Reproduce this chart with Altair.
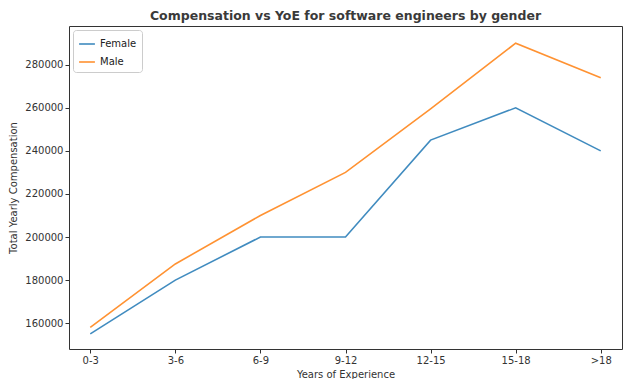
import altair as alt
import pandas as pd

categories = ["0-3", "3-6", "6-9", "9-12", "12-15", "15-18", ">18"]
female = [155000, 180000, 200000, 200000, 245000, 260000, 240000]
male = [158000, 187500, 210000, 230000, 259500, 290000, 274000]

rows = []
for c, f, m in zip(categories, female, male):
    rows.append({"yoe": c, "gender": "Female", "comp": f})
    rows.append({"yoe": c, "gender": "Male", "comp": m})
df = pd.DataFrame(rows)

font = "DejaVu Sans"

chart = alt.Chart(df).mark_line(strokeWidth=1.6, opacity=0.85).encode(
    x=alt.X("yoe:N", sort=categories, title="Years of Experience",
            scale=alt.Scale(type="point", padding=0.25),
            axis=alt.Axis(labelAngle=0, grid=False, tickColor="#333", tickSize=4,
                          domain=False, labelColor="#333", labelFontSize=10,
                          titleFontSize=10, titleFontWeight="normal", titleColor="#333",
                          labelFont=font, titleFont=font, titlePadding=4)),
    y=alt.Y("comp:Q", title="Total Yearly Compensation",
            scale=alt.Scale(domain=[148000, 298000], nice=False, zero=False),
            axis=alt.Axis(values=[160000, 180000, 200000, 220000, 240000, 260000, 280000],
                          format="d",
                          grid=False, tickColor="#333", tickSize=4, domain=False,
                          labelColor="#333", labelFontSize=10, titleFontSize=10,
                          titleFontWeight="normal", titleColor="#333",
                          labelFont=font, titleFont=font, titlePadding=6)),
    color=alt.Color("gender:N", title=None,
                    scale=alt.Scale(domain=["Female", "Male"], range=["#1f77b4", "#ff7f0e"]),
                    legend=alt.Legend(orient="top-left", symbolType="stroke", symbolStrokeWidth=1.6,
                                      symbolSize=250, labelFontSize=10, labelFont=font,
                                      labelColor="#222", fillColor="white", strokeColor="#ccc",
                                      padding=5, cornerRadius=3, offset=4, rowPadding=4)),
).properties(
    width=553, height=323,
    title=alt.Title("Compensation vs YoE for software engineers by gender", fontSize=12.5,
                    font=font, fontWeight="bold", color="#3a3a3a", anchor="middle", offset=4),
    autosize=alt.AutoSizeParams(type="none"),
    padding={"left": 61, "top": 18, "right": 10, "bottom": 30},
).configure_view(stroke="#333", strokeWidth=1)

chart.save("out.html", embed_options={"renderer": "svg", "actions": False})
